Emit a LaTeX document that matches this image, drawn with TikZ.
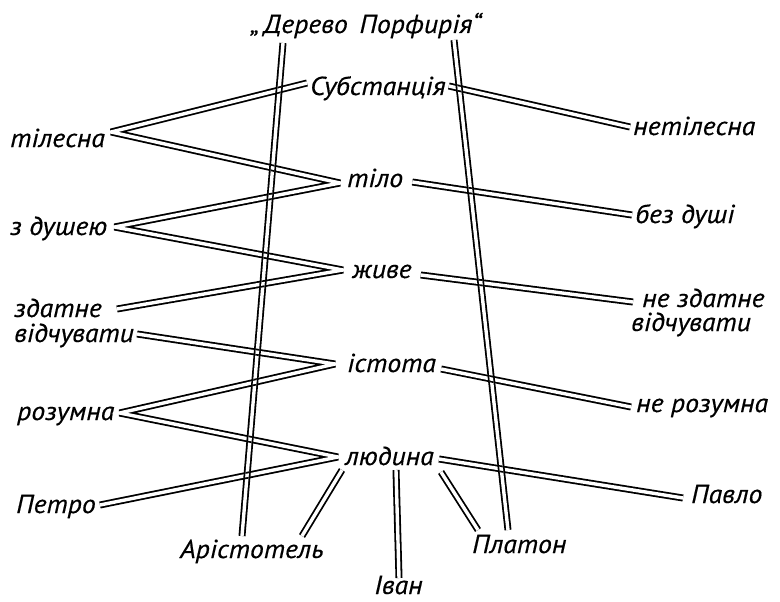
\documentclass[tikz,border=0pt]{standalone}
\usepackage{fontspec}
\newfontfamily\lblfont{PT Sans}[FakeStretch=1.07,FakeBold=0.4]
\usetikzlibrary{calc}
\begin{document}
\begin{tikzpicture}[x=1pt,y=-1pt,
  lab/.style={font=\lblfont\itshape\fontsize{26}{28}\selectfont, inner sep=0pt, anchor=base west},
  dl/.style={draw=black, line width=7pt, line join=bevel, line cap=butt,
    postaction={draw=white, line width=3.4pt, line join=miter}}]
\useasboundingbox (0,0) rectangle (780,602);
% labels
\node[lab] (title) at (250,33) {„\,Дерево\hspace{0.45em}Порфирія“};
\node[lab] (subst) at (310,95) {Субстанція};
\node[lab] (tilesna) at (10,147) {тілесна};
\node[lab] (netilesna) at (633,135) {нетілесна};
\node[lab] (tilo) at (347,187) {тіло};
\node[lab] (bezdushi) at (635,223) {без душі};
\node[lab] (zdush) at (10,235) {з душею};
\node[lab] (zhyve) at (352,278) {живе};
\node[lab] (zdatne) at (14,317) {здатне};
\node[lab] (vidch1) at (14,342) {відчувати};
\node[lab] (nezdatne) at (642,307) {не здатне};
\node[lab] (vidch2) at (631,331) {відчувати};
\node[lab] (istota) at (347,372) {істота};
\node[lab] (nerozumna) at (636,412) {не розумна};
\node[lab] (rozumna) at (17,420) {розумна};
\node[lab] (liudyna) at (345,465) {людина};
\node[lab] (petro) at (16,513) {Петро};
\node[lab] (pavlo) at (691,503) {Павло};
\node[lab] (arist) at (180,558) {Арістотель};
\node[lab] (platon) at (472,553) {Платон};
\node[lab] (ivan) at (374,594) {Іван};
% trunk end points
\coordinate (tl1) at ($(title.base west)+(33,10)$);
\coordinate (tl2) at ($(arist.base west)+(62,-22)$);
\coordinate (tr1) at ($(title.base west)+(204,7)$);
\coordinate (tr2) at ($(platon.base west)+(36,-23)$);
\newcommand\otherpaths{%
 \draw[dl] ($(subst.base west)+(-3,-12)$) -- ($(tilesna.base east)+(6,-15)$)
   -- ($(tilo.base west)+(-7,-4)$) -- ($(zdush.base east)+(7,-8)$)
   -- ($(zhyve.base west)+(-9,-8)$) -- ($(zdatne.base east)+(15,-8)$);
 \draw[dl] ($(vidch1.base east)+(3,-8)$) -- ($(istota.base west)+(-12,-8)$)
   -- ($(rozumna.base east)+(5,-7)$) -- ($(liudyna.base west)+(-7,-8)$)
   -- ($(petro.base east)+(4,-8)$);
 \draw[dl] ($(subst.base east)+(3,-9)$) -- ($(netilesna.base west)+(-3,-8)$);
 \draw[dl] ($(tilo.base east)+(9,-5)$) -- ($(bezdushi.base west)+(-3,-8)$);
 \draw[dl] ($(zhyve.base east)+(9,-3)$) -- ($(nezdatne.base west)+(-9,-5)$);
 \draw[dl] ($(istota.base east)+(5,-3)$) -- ($(nerozumna.base west)+(-5,-5)$);
 \draw[dl] ($(liudyna.base east)+(5,-6)$) -- ($(pavlo.base west)+(-8,-5)$);
 \draw[dl] ($(liudyna.base west)+(-3,5)$) -- ($(arist.base west)+(122,-22)$);
 \draw[dl] ($(liudyna.base west)+(51,5)$) -- ($(ivan.base west)+(25,-16)$);
 \draw[dl] ($(liudyna.base west)+(96,7)$) -- ($(platon.base west)+(6,-23)$);
}
\otherpaths
\draw[dl] (tl1) -- (tl2);
\draw[dl] (tr1) -- (tr2);
% redraw crossings so that both double lines stay visible
\begin{scope}
 \clip ($(tl1)!1.7pt!90:(tl2)$) -- ($(tl2)!1.7pt!-90:(tl1)$)
   -- ($(tl2)!1.7pt!90:(tl1)$) -- ($(tl1)!1.7pt!-90:(tl2)$) -- cycle;
 \otherpaths
\end{scope}
\begin{scope}
 \clip ($(tr1)!1.7pt!90:(tr2)$) -- ($(tr2)!1.7pt!-90:(tr1)$)
   -- ($(tr2)!1.7pt!90:(tr1)$) -- ($(tr1)!1.7pt!-90:(tr2)$) -- cycle;
 \otherpaths
\end{scope}
\end{tikzpicture}
\end{document}
